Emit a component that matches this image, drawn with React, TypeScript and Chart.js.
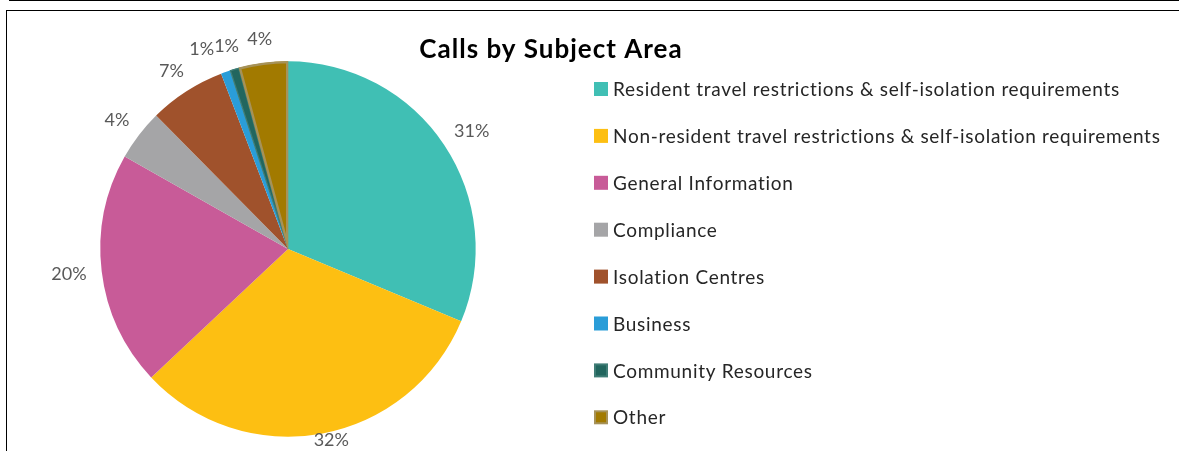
import React, { useEffect, useRef } from "react";
import { Chart, registerables } from "chart.js";

Chart.register(...registerables);

const categories = [
  "Resident travel restrictions & self-isolation requirements",
  "Non-resident travel restrictions & self-isolation requirements",
  "General Information",
  "Compliance",
  "Isolation Centres",
  "Business",
  "Community Resources",
  "Other",
];
const shares = [31.3, 31.7, 20.2, 4.4, 6.6, 0.8, 0.8, 4.2];
const fillColors = ["#40BFB4", "#FDBF12", "#C85B98", "#A5A5A7", "#A0522C", "#2A9DD8", "#22665E", "#A27A00"];
const edgeColors = ["#40BFB4", "#FDBF12", "#C85B98", "#A5A5A7", "#A0522C", "#2A9DD8", "#3F7D76", "#A69259"];
const edgeWidths = [0, 0, 0, 0, 0, 0, 1, 2];
const titleText = "Calls by Subject Area";

const W = 1179;
const H = 451;
const FONT = "Lato, 'Open Sans', sans-serif";

const framePlugin = {
  id: "frame",
  beforeDraw(chart: any) {
    const ctx = chart.ctx;
    ctx.save();
    ctx.fillStyle = "#fff";
    ctx.fillRect(0, 0, W, H);
    ctx.fillStyle = "#000";
    ctx.fillRect(9, 0, W - 9, 1);
    ctx.fillRect(6, 10, W - 6, 1);
    ctx.fillRect(6, 10, 1, H - 10);
    ctx.restore();
  },
};

const labelPlugin = {
  id: "outLabels",
  afterDatasetsDraw(chart: any) {
    const ctx = chart.ctx;
    const meta = chart.getDatasetMeta(0);
    const data = chart.data.datasets[0].data as number[];
    const total = data.reduce((a, b) => a + b, 0);
    ctx.save();
    ctx.font = `18px ${FONT}`;
    ctx.fillStyle = "#595959";
    ctx.textAlign = "center";
    ctx.textBaseline = "middle";
    const boxes: { x: number; y: number; w: number; t: string }[] = [];
    const h = 18;
    meta.data.forEach((arc: any, i: number) => {
      const p = arc.getProps(["x", "y", "startAngle", "endAngle", "outerRadius"], true);
      const mid = (p.startAngle + p.endAngle) / 2;
      const t = Math.round((data[i] / total) * 100) + "%";
      const w = ctx.measureText(t).width;
      const rr = p.outerRadius + 15;
      const c = Math.cos(mid);
      const s = Math.sin(mid);
      let x = p.x + rr * c + (c * w) / 2;
      let y = p.y + rr * s + (s * h) / 2;
      if (y > H - 11) {
        y = H - 11;
        x += 4;
      }
      boxes.push({ x, y, w, t });
    });
    for (let i = boxes.length - 2; i >= 0; i--) {
      const a = boxes[i];
      const b = boxes[i + 1];
      const overlapX = a.x + a.w / 2 - (b.x - b.w / 2);
      if (overlapX > 0 && Math.abs(a.y - b.y) < h && a.x < b.x) {
        a.x -= overlapX;
      }
    }
    boxes.forEach((b) => ctx.fillText(b.t, b.x, b.y));
    ctx.restore();
  },
};

const legendPlugin = {
  id: "customLegend",
  afterDraw(chart: any) {
    const ctx = chart.ctx;
    const ds = chart.data.datasets[0];
    ctx.save();
    // title
    ctx.font = `bold 26px ${FONT}`;
    (ctx as any).letterSpacing = "1px";
    ctx.fillStyle = "#000";
    ctx.textAlign = "left";
    ctx.textBaseline = "middle";
    const tw = ctx.measureText(titleText).width;
    ctx.fillText(titleText, 551 - tw / 2, 50);
    // legend
    ctx.font = `19px ${FONT}`;
    (ctx as any).letterSpacing = "0.7px";
    ctx.textAlign = "left";
    (chart.data.labels as string[]).forEach((lab, i) => {
      const cy = 89 + 46.9 * i;
      ctx.fillStyle = ds.borderColor[i];
      ctx.fillRect(594, cy - 7, 14, 14);
      const bw = ds.borderWidth[i];
      if (bw > 0) {
        ctx.fillStyle = ds.backgroundColor[i];
        ctx.fillRect(594 + 2, cy - 5, 10, 10);
      }
      ctx.fillStyle = "#262626";
      ctx.fillText(lab, 613, cy + 1);
    });
    ctx.restore();
  },
};

export default function App() {
  const ref = useRef<HTMLCanvasElement>(null);
  useEffect(() => {
    if (!ref.current) return;
    const chart = new Chart(ref.current, {
      type: "pie",
      data: {
        labels: categories,
        datasets: [
          {
            data: shares,
            backgroundColor: fillColors,
            borderColor: edgeColors,
            borderWidth: edgeWidths,
            borderAlign: "inner",
          } as any,
        ],
      },
      options: {
        animation: false,
        responsive: false,
        events: [],
        layout: { padding: { left: 100, top: 61, right: W - 476, bottom: H - 437 } },
        plugins: {
          legend: { display: false },
          title: { display: false },
          tooltip: { enabled: false },
        },
      },
      plugins: [framePlugin, labelPlugin, legendPlugin],
    });
    return () => chart.destroy();
  }, []);
  return (
    <div style={{ position: "fixed", left: 0, top: 0, width: W, height: H, background: "#fff" }}>
      <canvas ref={ref} width={W} height={H} style={{ display: "block", width: W, height: H }} />
    </div>
  );
}
